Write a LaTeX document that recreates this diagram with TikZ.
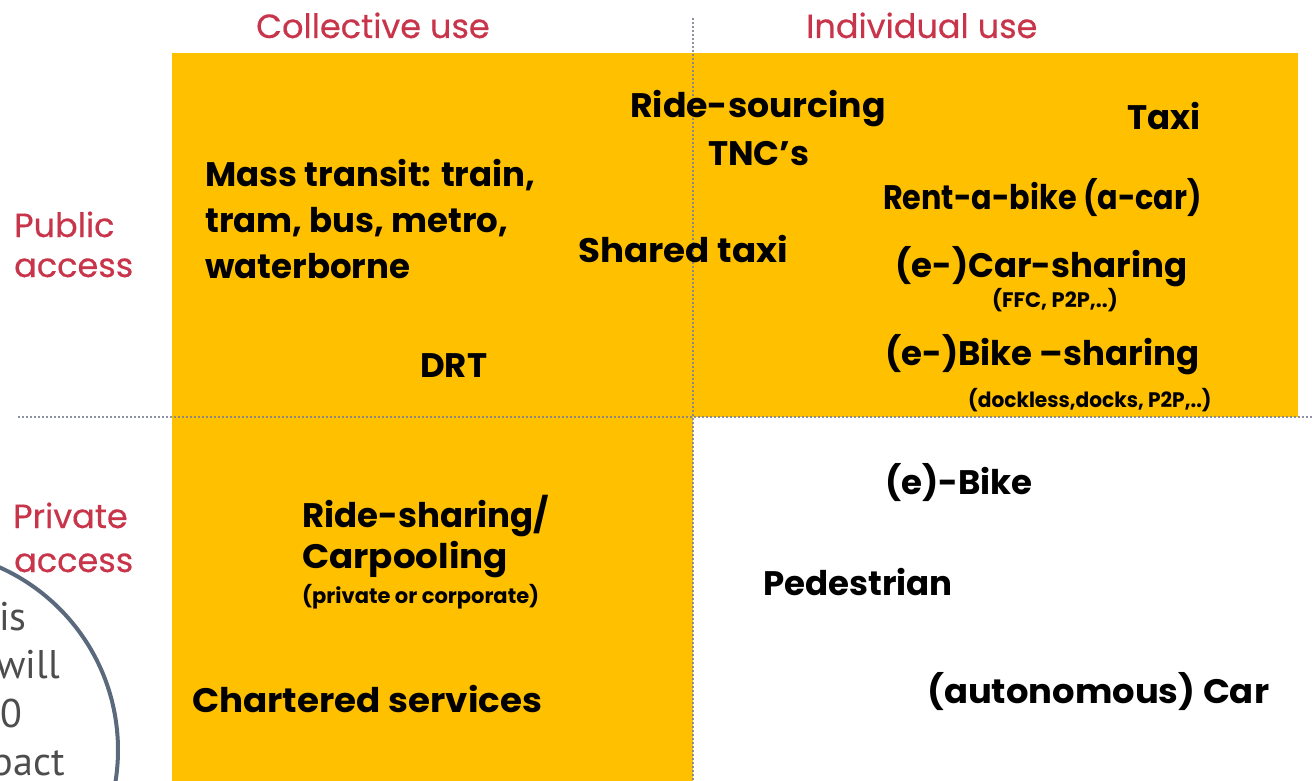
\documentclass[tikz,border=0pt]{standalone}
\usepackage{fontspec}
\setmainfont{Poppins}
\newfontfamily\labfont{Poppins}[FakeBold=0.4]
\newfontfamily\circfont{PT Sans}
\definecolor{qyellow}{HTML}{FFC000}
\definecolor{labred}{HTML}{C8344A}
\definecolor{circline}{HTML}{5A6A7C}
\definecolor{circtext}{HTML}{4D4D4D}
\definecolor{dotline}{HTML}{7A7F98}
\begin{document}
\begin{tikzpicture}[x=1pt,y=-1pt,
  lab/.style={text=labred, font=\labfont\fontsize{33.5}{40}\selectfont, inner sep=0pt, anchor=base west},
  item/.style={text=black, font=\bfseries\fontsize{34}{40}\selectfont, inner sep=0pt, anchor=base west},
  smallitem/.style={text=black, font=\bfseries\fontsize{21}{24}\selectfont, inner sep=0pt, anchor=base west},
  ctext/.style={text=circtext, font=\circfont\fontsize{40}{48}\selectfont, inner sep=0pt, anchor=base east},
  divider/.style={draw=dotline, line width=1.4pt, dash pattern=on 2pt off 2pt, opacity=0.85}]
\useasboundingbox (0,0) rectangle (1312,781);
\clip (0,0) rectangle (1312,781);
% quadrant fills
\fill[qyellow] (172,53) rectangle (1298,417);
\fill[qyellow] (172,417) rectangle (693,781);
% dividers
\coordinate (hL) at (18,417);
\coordinate (hR) at (1312,417);
\coordinate (vT) at (693,18);
\coordinate (vB) at (693,781);
\draw[divider] (hL) -- (hR);
\draw[divider] (vT) -- (vB);
% headers
\node[lab] (coll) at (256,38) {Collective use};
\node[lab] (indiv) at (806,38) {Individual use};
\node[lab] (pub1) at (14,237) {Public};
\node[lab] (pub2) at (14,277) {access};
\node[lab] (pri1) at (13,528) {Private};
\node[lab] (pri2) at (14,572) {access};
% public / collective
\node[item] (m1) at (205,186) {Mass transit: train,};
\node[item] (m2) at (205,232) {tram, bus, metro,};
\node[item] (m3) at (205,278) {waterborne};
\node[item] (drt) at (420,377) {DRT};
\node[item] (rs) at (630,118) {\scalebox{1.02}[1]{Ride-sourcing}};
\node[item] (tnc) at (708,165) {TNC's};
\node[item] (st) at (578,262) {\scalebox{1.05}[1]{Shared taxi}};
% public / individual
\node[item] (taxi) at (1127,130) {Taxi};
\node[item] (rab) at (883,209) {\scalebox{0.89}[1]{Rent-a-bike (a-car)}};
\node[item] (cs) at (895,277) {(e-)Car-sharing};
\node[smallitem] (csn) at (992,307) {(FFC, P2P,..)};
\node[item] (bs) at (885,365) {(e-)Bike –sharing};
\node[smallitem] (bsn) at (968,407) {\scalebox{0.96}[1]{(dockless,docks, P2P,..)}};
% private / collective
\node[item] (rsh) at (302,527) {Ride-sharing/};
\node[item] (cp) at (302,568) {\scalebox{1.05}[1]{Carpooling}};
\node[smallitem] (cpn) at (302,603) {(private or corporate)};
\node[item] (ch) at (192,712) {\scalebox{1.05}[1]{Chartered services}};
% private / individual
\node[item] (eb) at (885,494) {(e)-Bike};
\node[item] (ped) at (763,595) {Pedestrian};
\node[item] (car) at (927,703) {\scalebox{1.04}[1]{(autonomous) Car}};
% overlapping circle callout
\coordinate (cc) at (-82,750);
\draw[circline, line width=4pt] (cc) circle[radius=200];
\node[ctext] (c1) at (27,630) {is};
\node[ctext] (c2) at (60,678) {will};
\node[ctext] (c3) at (22,727) {0};
\node[ctext] (c4) at (65,775) {pact};
\end{tikzpicture}
\end{document}
